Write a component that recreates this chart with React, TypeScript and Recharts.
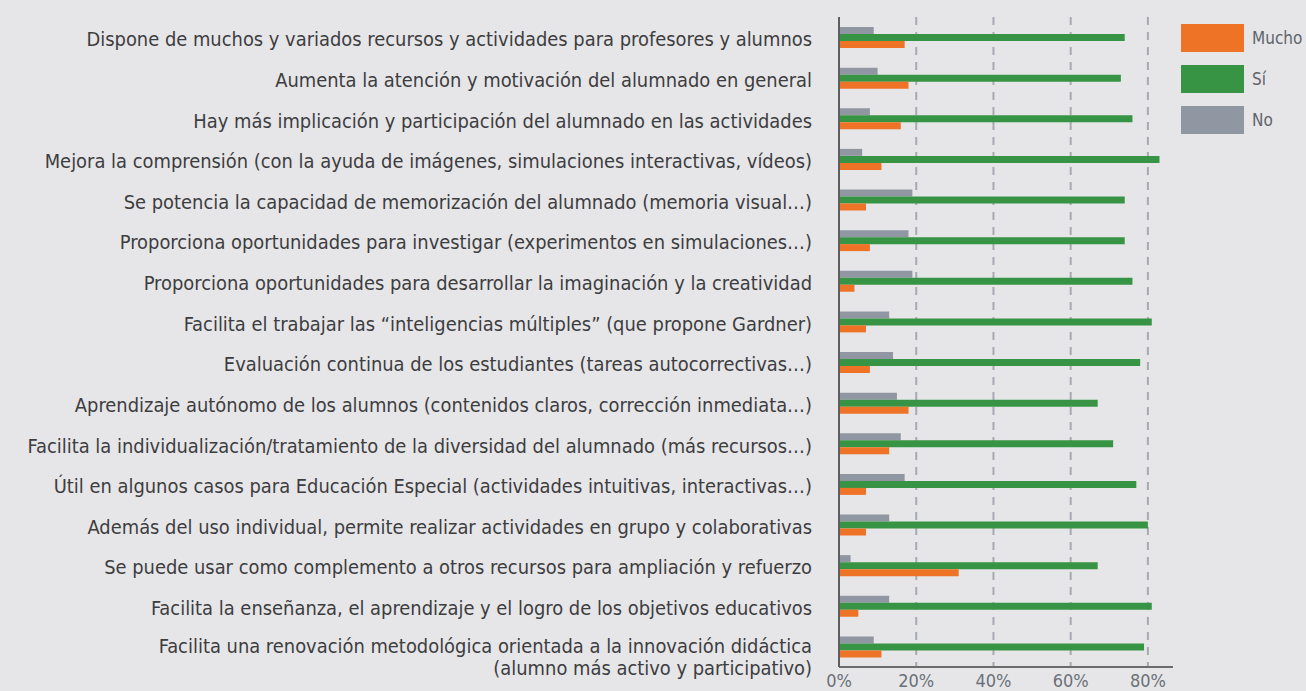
import React from 'react';
import { BarChart, Bar, XAxis, YAxis, CartesianGrid } from 'recharts';

const categories = [
  'Dispone de muchos y variados recursos y actividades para profesores y alumnos',
  'Aumenta la atención y motivación del alumnado en general',
  'Hay más implicación y participación del alumnado en las actividades',
  'Mejora la comprensión (con la ayuda de imágenes, simulaciones interactivas, vídeos)',
  'Se potencia la capacidad de memorización del alumnado (memoria visual…)',
  'Proporciona oportunidades para investigar (experimentos en simulaciones…)',
  'Proporciona oportunidades para desarrollar la imaginación y la creatividad',
  'Facilita el trabajar las “inteligencias múltiples” (que propone Gardner)',
  'Evaluación continua de los estudiantes (tareas autocorrectivas…)',
  'Aprendizaje autónomo de los alumnos (contenidos claros, corrección inmediata…)',
  'Facilita la individualización/tratamiento de la diversidad del alumnado (más recursos…)',
  'Útil en algunos casos para Educación Especial (actividades intuitivas, interactivas…)',
  'Además del uso individual, permite realizar actividades en grupo y colaborativas',
  'Se puede usar como complemento a otros recursos para ampliación y refuerzo',
  'Facilita la enseñanza, el aprendizaje y el logro de los objetivos educativos',
  'Facilita una renovación metodológica orientada a la innovación didáctica\n(alumno más activo y participativo)',
];

const mucho = [17, 18, 16, 11, 7, 8, 4, 7, 8, 18, 13, 7, 7, 31, 5, 11];
const si = [74, 73, 76, 83, 74, 74, 76, 81, 78, 67, 71, 77, 80, 67, 81, 79];
const no = [9, 10, 8, 6, 19, 18, 19, 13, 14, 15, 16, 17, 13, 3, 13, 9];

const xTicks = [0, 20, 40, 60, 80];
const xMax = 86.5;
const seriesNames = { mucho: 'Mucho', si: 'Sí', no: 'No' };

const COLORS = { mucho: '#ee7326', si: '#379445', no: '#9096a2' };
const BG = '#e6e6e8';
const FONT = '"DejaVu Sans Condensed", "DejaVu Sans", sans-serif';

const data = categories.map((name, i) => ({ name, mucho: mucho[i], si: si[i], no: no[i] }));

const CategoryTick = (props: any) => {
  const { x, y, payload } = props;
  const lines = String(payload.value).split('\n');
  const lh = 22;
  const start = lines.length > 1 ? -1 : 2;
  return (
    <g>
      {lines.map((l, i) => (
        <text
          key={i}
          x={x}
          y={y + start + i * lh}
          dy="0.35em"
          textAnchor="end"
          fill="#3d3d3f"
          fontSize={19.9}
          fontFamily={FONT}
        >
          {l}
        </text>
      ))}
    </g>
  );
};

const ValueTick = (props: any) => {
  const { x, payload } = props;
  return (
    <text x={x} y={687} textAnchor="middle" fill="#6b7078" fontSize={18} fontFamily={FONT}>
      {payload.value}%
    </text>
  );
};

const legendItems: Array<'mucho' | 'si' | 'no'> = ['mucho', 'si', 'no'];

export default function App() {
  return (
    <div style={{ position: 'fixed', left: 0, top: 0, width: 1306, height: 691, background: BG }}>
      <BarChart
        width={1306}
        height={691}
        data={data}
        layout="vertical"
        margin={{ top: 17, right: 133, left: 0, bottom: 0 }}
        barGap={0}
        barSize={7}
      >
        <CartesianGrid
          horizontal={false}
          vertical={true}
          stroke="#a7aab2"
          strokeWidth={2}
          strokeDasharray="8 7"
          verticalCoordinatesGenerator={(p: any) => {
            const off = p.offset || {};
            const left = off.left ?? 839;
            const w = off.width ?? 334;
            return xTicks.filter((t) => t > 0).map((t) => left + (t / xMax) * w);
          }}
        />
        <XAxis
          type="number"
          domain={[0, xMax]}
          ticks={xTicks}
          tickLine={false}
          axisLine={{ stroke: '#6b6b6b', strokeWidth: 2 }}
          tick={<ValueTick />}
          height={24}
          interval={0}
        />
        <YAxis
          type="category"
          dataKey="name"
          width={839}
          tickLine={false}
          axisLine={{ stroke: '#5e5e5e', strokeWidth: 2 }}
          tick={<CategoryTick />}
          tickMargin={21}
          interval={0}
        />
        <Bar dataKey="no" name={seriesNames.no} fill={COLORS.no} isAnimationActive={false} />
        <Bar dataKey="si" name={seriesNames.si} fill={COLORS.si} isAnimationActive={false} />
        <Bar dataKey="mucho" name={seriesNames.mucho} fill={COLORS.mucho} isAnimationActive={false} />
      </BarChart>
      <div style={{ position: 'absolute', left: 1181, top: 24 }}>
        {legendItems.map((k) => (
          <div key={k} style={{ display: 'flex', alignItems: 'center', height: 28, marginBottom: 13 }}>
            <div style={{ width: 63, height: 28, background: COLORS[k] }} />
            <span style={{ marginLeft: 8, fontFamily: FONT, fontSize: 17, color: '#5f646b' }}>{seriesNames[k]}</span>
          </div>
        ))}
      </div>
    </div>
  );
}
